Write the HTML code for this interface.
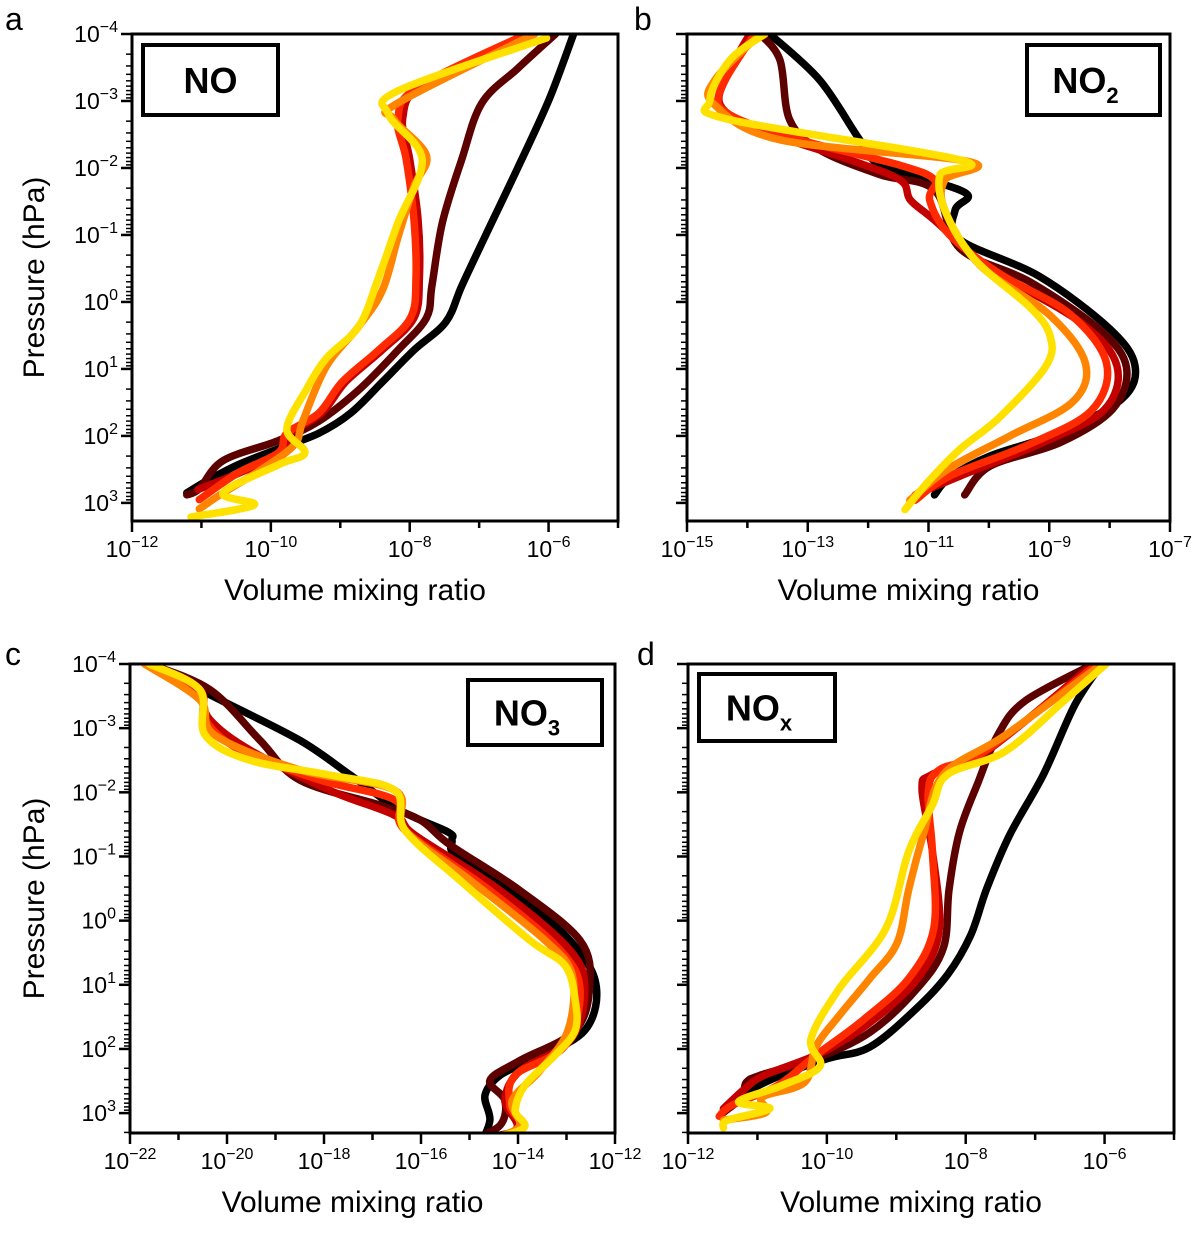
<!DOCTYPE html>
<html><head><meta charset="utf-8"><title>NOx profiles</title>
<style>html,body{margin:0;padding:0;background:#fff}svg{display:block}text{font-family:"Liberation Sans",sans-serif;fill:#000}</style>
</head><body>
<svg id="fig" width="1200" height="1245" viewBox="0 0 1200 1245" xmlns="http://www.w3.org/2000/svg"></svg>
<script>
// Series colours (runs)
const seriesColors = ["#000000","#5c0000","#c20000","#ff2a00","#ff8400","#ffe100"];
const seriesNames = ["run-1","run-2","run-3","run-4","run-5","run-6"];

// Panel a: NO — [log10 VMR, log10 p]
const noBlack=[[-5.64,-4],[-5.99,-3.03],[-6.44,-2.01],[-6.9,-1.01],[-7.25,-0.24],[-7.48,0.3],[-7.94,0.72],[-8.39,1.19],[-8.85,1.66],[-9.31,1.96],[-9.89,2.19],[-10.47,2.43],[-10.92,2.67],[-11.21,2.85]];
const noBrown=[[-5.9,-4],[-6.44,-3.49],[-6.96,-2.97],[-7.25,-2.13],[-7.53,-1.18],[-7.68,-0.24],[-7.76,0.24],[-8.17,0.72],[-8.73,1.31],[-9.31,1.78],[-9.89,2.07],[-10.69,2.37],[-11.03,2.79],[-11.21,2.88]];
const noDarkRed=[[-6.25,-4],[-7.8,-3.25],[-8.1,-2.75],[-8.0,-2.13],[-7.88,-1.24],[-7.86,-0.36],[-7.94,0.24],[-8.4,0.72],[-8.92,1.19],[-9.27,1.66],[-9.72,1.96],[-9.85,2.25],[-10.45,2.55],[-11.05,2.8]];
const noRed=[[-6.32,-4],[-7.88,-3.21],[-8.17,-2.73],[-8.05,-2.13],[-7.94,-1.24],[-7.91,-0.36],[-7.99,0.24],[-8.45,0.72],[-8.97,1.19],[-9.31,1.66],[-9.77,1.96],[-9.89,2.25],[-10.47,2.55],[-11.03,2.95]];
const noOrange=[[-6.2,-4],[-8.17,-2.97],[-8.23,-2.73],[-7.76,-2.19],[-7.94,-1.72],[-8.17,-0.96],[-8.39,-0.18],[-8.73,0.36],[-9.2,0.96],[-9.54,1.78],[-9.66,2.13],[-10.12,2.49],[-10.69,2.85],[-11.03,3.09]];
const noYellow=[[-6.03,-3.94],[-8.17,-3.15],[-8.3,-2.79],[-7.82,-2.13],[-8.17,-1.18],[-8.45,-0.36],[-8.73,0.36],[-9.2,0.84],[-9.49,1.31],[-9.77,1.9],[-9.51,2.25],[-9.89,2.43],[-10.69,2.85],[-10.24,3.03],[-11.15,3.21]];

// Panel b: NO2
const no2Black=[[-13.63,-4],[-12.8,-3.31],[-12.14,-2.42],[-11.8,-2.04],[-10.98,-1.82],[-10.35,-1.6],[-10.56,-1.37],[-10.48,-0.93],[-9.16,-0.38],[-8.0,0.4],[-7.58,0.95],[-7.8,1.45],[-8.82,1.95],[-9.98,2.3],[-10.65,2.62],[-10.9,2.88]];
const no2Brown=[[-13.79,-4],[-13.46,-3.61],[-13.3,-2.72],[-12.8,-2.27],[-11.8,-1.9],[-10.9,-1.67],[-10.48,-0.8],[-9.32,-0.3],[-8.16,0.42],[-7.72,0.98],[-7.95,1.6],[-8.82,2.1],[-9.98,2.45],[-10.4,2.88]];
const no2DarkRed=[[-13.96,-4],[-14.29,-3.46],[-14.45,-2.94],[-13.79,-2.57],[-12.3,-2.12],[-11.47,-1.82],[-11.3,-1.52],[-10.9,-1.22],[-9.98,-0.5],[-8.49,0.3],[-7.88,0.95],[-8.1,1.62],[-9.16,2.12],[-10.48,2.6],[-11.22,2.88]];
const no2Red=[[-13.88,-4],[-14.45,-3.16],[-14.3,-2.8],[-13.13,-2.42],[-11.47,-2.04],[-10.9,-1.82],[-10.98,-1.52],[-10.65,-1.0],[-9.82,-0.42],[-8.66,0.18],[-8.05,0.92],[-8.3,1.62],[-9.32,2.12],[-10.65,2.6],[-11.22,2.96]];
const no2Orange=[[-13.79,-4],[-14.54,-3.31],[-14.54,-2.94],[-13.46,-2.42],[-10.31,-2.09],[-10.73,-1.82],[-10.73,-1.37],[-10.15,-0.55],[-8.99,0.2],[-8.4,0.92],[-8.62,1.5],[-9.65,2.0],[-10.65,2.48],[-11.31,2.96]];
const no2Yellow=[[-13.71,-4],[-14.29,-3.61],[-14.62,-3.01],[-14.29,-2.72],[-10.48,-2.12],[-10.81,-1.9],[-10.73,-1.37],[-10.23,-0.63],[-9.32,0.08],[-8.99,0.5],[-9.05,0.95],[-9.82,1.72],[-10.48,2.2],[-10.98,2.66],[-11.39,3.1]];

// Panel c: NO3
const no3Black=[[-21.6,-4],[-20.14,-3.44],[-18.5,-2.81],[-17.46,-2.27],[-16.43,-1.72],[-15.44,-1.38],[-15.36,-1.25],[-15.3,-1.02],[-14.37,-0.55],[-13.13,0.15],[-12.41,0.93],[-12.62,1.71],[-13.75,2.18],[-14.37,2.41],[-14.68,2.72],[-14.58,3.11],[-14.78,3.5]];
const no3Brown=[[-21.6,-4],[-20.35,-3.6],[-19.32,-2.81],[-18.5,-2.19],[-16.85,-1.8],[-16.02,-1.57],[-15.4,-1.18],[-13.96,-0.47],[-12.72,0.31],[-12.52,1.0],[-12.82,1.71],[-13.96,2.18],[-14.58,2.49],[-14.27,2.8],[-14.37,3.19],[-15.0,3.43]];
const no3DarkRed=[[-21.6,-4],[-20.66,-3.6],[-20.35,-3.13],[-19.53,-2.66],[-17.88,-2.03],[-16.54,-1.64],[-16.12,-1.33],[-14.37,-0.47],[-12.93,0.46],[-12.62,1.09],[-12.93,1.87],[-13.96,2.34],[-14.27,2.8],[-14.06,3.27],[-15.4,3.43]];
const no3Red=[[-21.6,-4],[-20.56,-3.6],[-20.45,-3.13],[-19.73,-2.66],[-18.08,-2.19],[-16.54,-1.88],[-16.33,-1.41],[-14.58,-0.47],[-13.13,0.46],[-12.72,1.09],[-13.03,1.95],[-14.06,2.41],[-14.17,2.88],[-14.0,3.27],[-15.6,3.5]];
const no3Orange=[[-21.7,-4],[-20.56,-3.44],[-20.25,-2.89],[-18.5,-2.35],[-16.54,-2.03],[-16.33,-1.41],[-14.99,-0.63],[-13.44,0.31],[-12.88,0.85],[-12.97,1.71],[-13.55,2.34],[-14.12,2.8],[-14.06,3.27],[-15.81,3.55]];
const no3Yellow=[[-21.6,-4],[-20.56,-3.6],[-20.45,-2.89],[-19.53,-2.5],[-17.88,-2.27],[-16.54,-2.03],[-16.33,-1.41],[-15.2,-0.63],[-13.75,0.31],[-13.03,0.7],[-12.82,1.24],[-12.82,1.71],[-13.24,2.1],[-13.86,2.57],[-14.06,2.96],[-13.96,3.27],[-15.81,3.58]];

// Panel d: NOx
const noxBlack=[[-6.04,-4],[-6.43,-3.36],[-6.88,-2.28],[-7.37,-1.33],[-7.7,-0.49],[-7.93,0.23],[-8.26,0.84],[-8.71,1.37],[-9.38,1.97],[-9.99,2.15],[-10.77,2.46],[-11.16,2.69],[-11.49,2.99]];
const noxBrown=[[-6.16,-4],[-7.15,-3.42],[-7.54,-2.89],[-7.82,-2.16],[-8.09,-1.38],[-8.24,-0.49],[-8.32,0.42],[-8.71,1.07],[-9.38,1.74],[-10.16,2.15],[-10.93,2.4],[-11.16,2.52],[-11.22,2.75],[-11.49,2.99]];
const noxDarkRed=[[-6.16,-4],[-7.7,-2.64],[-8.48,-2.28],[-8.63,-2.05],[-8.48,-1.08],[-8.38,0.12],[-8.65,0.84],[-9.26,1.49],[-10.04,2.04],[-10.88,2.4],[-11.16,2.6],[-11.49,2.93]];
const noxRed=[[-6.1,-4],[-7.7,-2.66],[-8.38,-2.35],[-8.54,-1.99],[-8.48,-1.08],[-8.46,0.12],[-8.82,0.9],[-9.48,1.55],[-10.16,2.1],[-10.71,2.57],[-11.37,2.88],[-11.55,3.05]];
const noxOrange=[[-6.04,-4],[-7.43,-2.89],[-8.32,-2.28],[-8.6,-1.38],[-8.82,-0.49],[-8.99,0.35],[-9.38,0.9],[-9.83,1.49],[-10.16,1.97],[-10.32,2.52],[-10.93,2.75],[-10.88,2.99],[-11.49,3.11]];
const noxYellow=[[-5.98,-4],[-6.59,-3.42],[-7.43,-2.64],[-8.26,-2.28],[-8.48,-1.8],[-8.82,-1.08],[-9.15,0.12],[-9.83,1.07],[-10.23,1.85],[-10.1,2.27],[-10.65,2.57],[-11.27,2.82],[-10.82,2.93],[-11.43,3.11],[-11.49,3.23]];

// Tick exponents
const xTicksA=[-12,-10,-8,-6], xTicksB=[-15,-13,-11,-9,-7], xTicksC=[-22,-20,-18,-16,-14,-12], xTicksD=[-12,-10,-8,-6];
const yTicks=[-4,-3,-2,-1,0,1,2,3];

const NS="http://www.w3.org/2000/svg";
const svg=document.getElementById('fig');
function mk(tag,attrs,parent){const e=document.createElementNS(NS,tag);for(const k in attrs)e.setAttribute(k,attrs[k]);(parent||svg).appendChild(e);return e;}
function smooth(pts){let d="M"+pts[0][0].toFixed(1)+","+pts[0][1].toFixed(1);
 for(let i=0;i<pts.length-1;i++){const p0=pts[Math.max(0,i-1)],p1=pts[i],p2=pts[i+1],p3=pts[Math.min(pts.length-1,i+2)];
  const c1=[p1[0]+(p2[0]-p0[0])/6,p1[1]+(p2[1]-p0[1])/6],c2=[p2[0]-(p3[0]-p1[0])/6,p2[1]-(p3[1]-p1[1])/6];
  d+=" C"+c1[0].toFixed(1)+","+c1[1].toFixed(1)+" "+c2[0].toFixed(1)+","+c2[1].toFixed(1)+" "+p2[0].toFixed(1)+","+p2[1].toFixed(1);}
 return d;}

const panels=[
 {id:'a',L:132,R:618,T:34,B:521,xmin:-12,xmax:-5,yb:3.27,ticks:xTicksA,series:[noBlack,noBrown,noDarkRed,noRed,noOrange,noYellow],
  label:'NO',sub:'',box:[143,45,135,70],ylab:true,lx:5,ly:30},
 {id:'b',L:687,R:1170,T:34,B:521,xmin:-15,xmax:-7,yb:3.27,ticks:xTicksB,series:[no2Black,no2Brown,no2DarkRed,no2Red,no2Orange,no2Yellow],
  label:'NO',sub:'2',box:[1027,45,133,70],ylab:false,lx:634,ly:30},
 {id:'c',L:130,R:615,T:664,B:1133,xmin:-22,xmax:-12,yb:3.31,ticks:xTicksC,series:[no3Black,no3Brown,no3DarkRed,no3Red,no3Orange,no3Yellow],
  label:'NO',sub:'3',box:[468,680,134,65],ylab:true,lx:5,ly:665},
 {id:'d',L:688,R:1174,T:664,B:1133,xmin:-12,xmax:-5,yb:3.31,ticks:xTicksD,series:[noxBlack,noxBrown,noxDarkRed,noxRed,noxOrange,noxYellow],
  label:'NO',sub:'x',box:[699,674,136,67],ylab:false,lx:637,ly:665}
];

panels.forEach(P=>{
 const g=mk('g',{});
 
 
 const xs=v=>P.L+(v-P.xmin)/(P.xmax-P.xmin)*(P.R-P.L);
 const ys=v=>P.T+(v+4)/(P.yb+4)*(P.B-P.T);
 const cp=mk('clipPath',{id:'clip'+P.id},g); mk('rect',{x:P.L,y:P.T,width:P.R-P.L,height:P.B-P.T},cp);
 const sg=mk('g',{'clip-path':'url(#clip'+P.id+')'},g);
 P.series.forEach((s,i)=>{
  const path=mk('path',{d:smooth(s.map(p=>[xs(p[0]),ys(p[1])])),fill:'none',stroke:seriesColors[i],'stroke-width':7.5,'stroke-linejoin':'round','stroke-linecap':'round'},sg);
  
  
 });
 const fr=mk('rect',{x:P.L,y:P.T,width:P.R-P.L,height:P.B-P.T,fill:'none',stroke:'#000','stroke-width':3},g);
 
 
 for(let e=P.xmin;e<=P.xmax;e++){const x=xs(e);const major=P.ticks.includes(e);
  mk('line',{x1:x,x2:x,y1:P.B,y2:P.B+(major?11:7),stroke:'#000','stroke-width':2.5},g);}
 P.ticks.forEach(e=>{const t=mk('text',{x:xs(e),y:P.B+36,'text-anchor':'middle','font-size':23,fill:'#000'},g);
  
  
  t.innerHTML='10<tspan dy="-10" font-size="16">\u2212'+Math.abs(e)+'</tspan>';});
 for(let e=-4;e<=3;e++){const y=ys(e);mk('line',{x1:P.L-11,x2:P.L,y1:y,y2:y,stroke:'#000','stroke-width':2.5},g);
  for(let m=2;m<=9;m++){const v=e+Math.log10(m);if(v>P.yb)break;const yy=ys(v);mk('line',{x1:P.L-6,x2:P.L,y1:yy,y2:yy,stroke:'#000','stroke-width':1.5},g);}}
 if(P.ylab){
  yTicks.forEach(e=>{const t=mk('text',{x:P.L-14,y:ys(e)+8,'text-anchor':'end','font-size':23,fill:'#000'},g);
   
   
   t.innerHTML='10<tspan dy="-10" font-size="16">'+(e<0?'\u2212'+Math.abs(e):e)+'</tspan>';});
  const yl=mk('text',{x:0,y:0,transform:'translate(44,'+((P.T+P.B)/2)+') rotate(-90)','text-anchor':'middle','font-size':30,fill:'#000'},g);
  
  
  yl.textContent='Pressure (hPa)';
 }
 const xl=mk('text',{x:(P.L+P.R)/2-20,y:P.B+79,'text-anchor':'middle','font-size':30,fill:'#000'},g);
 
 
 xl.textContent='Volume mixing ratio';
 const pl=mk('text',{x:P.lx,y:P.ly,'font-size':32,fill:'#000'},g);
 
 
 pl.textContent=P.id;
 const [bx,by,bw,bh]=P.box;
 const bxr=mk('rect',{x:bx,y:by,width:bw,height:bh,fill:'#fff',stroke:'#000','stroke-width':4},g);
 
 
 const st=mk('text',{x:bx+bw/2-(P.sub?8:0),y:by+bh/2+13,'text-anchor':'middle','font-size':36,'font-weight':'bold',fill:'#000'},g);
 
 
 st.innerHTML=P.label+(P.sub?'<tspan dy="10" font-size="22">'+P.sub+'</tspan>':'');
});
</script>
</body></html>
